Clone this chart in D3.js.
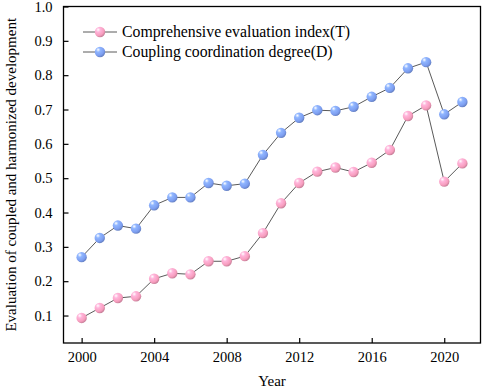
<!DOCTYPE html>
<html>
<head>
<meta charset="utf-8">
<script src="https://cdn.jsdelivr.net/npm/d3@7"></script>
<style>
  html, body { margin: 0; padding: 0; background: #fff; }
  svg, svg text { font-family: "Times New Roman", "Liberation Serif", "DejaVu Serif", serif !important; }
</style>
</head>
<body>
<div id="chart"></div>
<script>
// Coupling coordination chart, 2000-2021

const years = d3.range(2000, 2022);
const indexT = [0.093, 0.122, 0.151, 0.156, 0.207, 0.223, 0.220, 0.258, 0.258, 0.273,
                0.340, 0.427, 0.486, 0.519, 0.531, 0.518, 0.545, 0.582, 0.681, 0.712,
                0.490, 0.543];
const degreeD = [0.270, 0.326, 0.362, 0.353, 0.421, 0.444, 0.444, 0.486, 0.478, 0.484,
                 0.568, 0.632, 0.676, 0.698, 0.696, 0.708, 0.737, 0.763, 0.820, 0.838,
                 0.686, 0.722];
const seriesNames = ["Comprehensive evaluation index(T)", "Coupling coordination degree(D)"];
const xTicks = [2000, 2004, 2008, 2012, 2016, 2020];
const yTicks = [0.1, 0.2, 0.3, 0.4, 0.5, 0.6, 0.7, 0.8, 0.9, 1.0];

const width = 484, height = 388;
const margin = { top: 6.5, right: 3.5, bottom: 45, left: 63.5 };

const svg = d3.select("#chart").append("svg")
    .attr("width", width)
    .attr("height", height);

const defs = svg.append("defs");
const colors = ["#f79dbe", "#7d9ef0"];
colors.forEach((c, i) => {
    const grad = defs.append("radialGradient")
        .attr("id", "ball" + i)
        .attr("cx", "35%").attr("cy", "32%").attr("r", "70%")
        .attr("fx", "32%").attr("fy", "28%");
    grad.append("stop").attr("offset", "0%").attr("stop-color", "#ffffff");
    grad.append("stop").attr("offset", "30%").attr("stop-color", d3.color(c).brighter(0.4));
    grad.append("stop").attr("offset", "75%").attr("stop-color", c);
    grad.append("stop").attr("offset", "100%").attr("stop-color", d3.color(c).darker(0.6));
});

const x = d3.scaleLinear()
    .domain([1999, 2022])
    .range([margin.left, width - margin.right]);

const y = d3.scaleLinear()
    .domain([0.02, 1.0])
    .range([height - margin.bottom, margin.top]);

// axes (ticks pointing inward)
svg.append("g")
    .attr("transform", `translate(0,${height - margin.bottom})`)
    .call(d3.axisBottom(x).tickValues(xTicks).tickFormat(d3.format("d")).tickSizeInner(-5).tickSizeOuter(0).tickPadding(9))
    .call(g => g.select(".domain").remove())
    .call(g => g.selectAll("line").attr("stroke", "#000").attr("stroke-width", 1.2))
    .call(g => g.selectAll("text").attr("font-size", 14.5).attr("fill", "#000"));

svg.append("g")
    .attr("transform", `translate(${margin.left},0)`)
    .call(d3.axisLeft(y).tickValues(yTicks).tickFormat(d3.format(".1f")).tickSizeInner(-5).tickSizeOuter(0).tickPadding(11))
    .call(g => g.select(".domain").remove())
    .call(g => g.selectAll("line").attr("stroke", "#000").attr("stroke-width", 1.2))
    .call(g => g.selectAll("text").attr("font-size", 14.5).attr("fill", "#000"));

// frame
svg.append("rect")
    .attr("x", margin.left)
    .attr("y", margin.top)
    .attr("width", width - margin.right - margin.left)
    .attr("height", height - margin.bottom - margin.top)
    .attr("fill", "none")
    .attr("stroke", "#000")
    .attr("stroke-width", 1.3);

// axis titles
svg.append("text")
    .attr("x", x(2010.5))
    .attr("y", 386)
    .attr("text-anchor", "middle")
    .attr("font-size", 15)
    .text("Year");

svg.append("text")
    .attr("transform", `translate(15.5,${(margin.top + height - margin.bottom) / 2}) rotate(-90)`)
    .attr("text-anchor", "middle")
    .attr("font-size", 15)
    .text("Evaluation of coupled and harmonized development");

// series
const line = d3.line()
    .x((d, i) => x(years[i]))
    .y(d => y(d));

[indexT, degreeD].forEach((vals, s) => {
    svg.append("path")
        .datum(vals)
        .attr("fill", "none")
        .attr("stroke", "#5a5a5a")
        .attr("stroke-width", 1)
        .attr("d", line);

    svg.append("g")
        .selectAll("circle")
        .data(vals)
        .join("circle")
        .attr("cx", (d, i) => x(years[i]))
        .attr("cy", d => y(d))
        .attr("r", 5.2)
        .attr("fill", `url(#ball${s})`);
});

// legend
const legend = svg.append("g").attr("transform", "translate(83,32)");
seriesNames.forEach((name, i) => {
    const row = legend.append("g").attr("transform", `translate(0,${i * 20})`);
    row.append("line")
        .attr("x1", 0).attr("x2", 34)
        .attr("stroke", "#5a5a5a").attr("stroke-width", 1);
    row.append("circle")
        .attr("cx", 17).attr("r", 5.2)
        .attr("fill", `url(#ball${i})`);
    row.append("text")
        .attr("x", 39)
        .attr("dy", "0.33em")
        .attr("font-size", 15.8)
        .text(name);
});
</script>
</body>
</html>
